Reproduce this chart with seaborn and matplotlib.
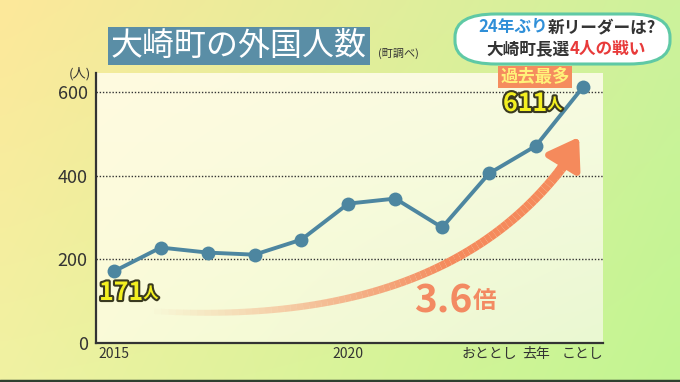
import numpy as np
import pandas as pd
import matplotlib.pyplot as plt
import matplotlib.patheffects as pe
from matplotlib.patches import FancyBboxPatch
from matplotlib.collections import LineCollection
from matplotlib.colors import to_rgb
import seaborn as sns

# data (町調べ)
years = [2015, 2016, 2017, 2018, 2019, 2020, 2021, 2022, 2023, 2024, 2025]
residents = [171, 228, 216, 211, 247, 333, 345, 276, 405, 471, 611]
tick_years = [2015, 2020, 2023, 2024, 2025]
tick_labels = ["2015", "2020", "おととし", "去年", "ことし"]
y_ticks = [0, 200, 400, 600]

sns.set_theme(style="white")
plt.rcParams["font.family"] = ["Noto Sans CJK JP", "DejaVu Sans"]

W, H = 680, 382
fig = plt.figure(figsize=(W / 100, H / 100), dpi=100)
renderer = fig.canvas.get_renderer()


def gradient(tl, tr, bl, br, n=64):
    t = np.linspace(0, 1, n)
    gx, gy = np.meshgrid(t, t)
    c = [np.array(to_rgb(k)) for k in (tl, tr, bl, br)]
    img = ((1 - gx)[..., None] * (1 - gy)[..., None] * c[0]
           + gx[..., None] * (1 - gy)[..., None] * c[1]
           + (1 - gx)[..., None] * gy[..., None] * c[2]
           + gx[..., None] * gy[..., None] * c[3])
    return img


def text_run(x, y, parts, **kw):
    # place text pieces one after another, starting at figure pixel x
    for s, color, size in parts:
        t = fig.text(x / W, 1 - y / H, s, color=color, fontsize=size,
                     ha="left", va="center", **kw)
        x += t.get_window_extent(renderer).width
    return x


# background
bg = fig.add_axes([0, 0, 1, 1])
bg.imshow(gradient("#fde89a", "#cdf29c", "#f0f2a2", "#c2f592"),
          extent=[0, 1, 0, 1], aspect="auto", interpolation="bicubic")
bg.axhline(0.003, color="#2f4030", lw=2.5)
bg.set_xlim(0, 1)
bg.set_ylim(0, 1)
bg.axis("off")

ax = fig.add_axes([96 / W, (H - 343) / H, (603 - 96) / W, (343 - 73) / H])
ax.imshow(gradient("#fffbe0", "#f8fbe2", "#fafbd8", "#eaf8d2"),
          extent=[0, 1, 0, 1], transform=ax.transAxes, aspect="auto",
          interpolation="bicubic", zorder=0)

df = pd.DataFrame({"year": years, "residents": residents})
sns.lineplot(data=df, x="year", y="residents", ax=ax, color="#4d86a0",
             lw=2.8, marker="o", markersize=10, markeredgewidth=0, zorder=5)

ax.set_xlim(2014.62, 2025.43)
ax.set_ylim(0, 645)
ax.set_aspect("auto")
ax.set_xticks(tick_years)
ax.set_xticklabels(tick_labels, fontsize=10, color="#333333")
ax.set_yticks(y_ticks)
ax.set_yticklabels([str(v) for v in y_ticks], fontsize=13, color="#333333")
ax.tick_params(axis="x", length=0, pad=3)
ax.tick_params(axis="y", length=0, pad=6)
for v in y_ticks[1:]:
    ax.axhline(v, color="#333333", lw=1.0, ls=(0, (1, 1.3)), zorder=2)
ax.set_xlabel("")
ax.set_ylabel("")
for s in ["top", "right"]:
    ax.spines[s].set_visible(False)
for s in ["left", "bottom"]:
    ax.spines[s].set_color("#333333")
    ax.spines[s].set_linewidth(1.6)
fig.text(91 / W, 1 - 74 / H, "(人)", fontsize=9.5, color="#333333",
         ha="right", va="center")

# growth arrow (fades at its tail)
p0 = np.array([2015.70, 77.0])
pc = np.array([2021.95, 31.0])
p2 = np.array([2024.60, 425.0])
t = np.linspace(0, 1, 80)[:, None]
curve = (1 - t) ** 2 * p0 + 2 * (1 - t) * t * pc + t ** 2 * p2
segs = np.stack([curve[:-1], curve[1:]], axis=1)
orange = np.array(to_rgb("#f58a5c"))
alphas = np.clip(np.linspace(0.0, 1.6, len(segs)), 0, 1)
cols = np.column_stack([np.tile(orange, (len(segs), 1)), alphas])
widths = np.linspace(4, 7, len(segs))
ax.add_collection(LineCollection(segs, colors=cols, linewidths=widths,
                                 capstyle="butt", zorder=3))
ax.annotate("", xy=(2024.92, 492), xytext=(curve[-4, 0], curve[-4, 1]),
            arrowprops=dict(arrowstyle="-|>,head_length=1.5,head_width=1.0",
                            color="#f58a5c", lw=5, shrinkA=0, shrinkB=0),
            zorder=3)

# value labels and callouts (positions in figure pixels)
glow = [pe.withStroke(linewidth=3, foreground="#3a3a20")]
text_run(414, 301, [("3.6", "#f38a62", 28), ("倍", "#f38a62", 17)],
         fontweight="bold")
text_run(99, 293, [("171", "#f4f020", 18), ("人", "#f4f020", 11)],
         fontweight="bold", path_effects=glow)
text_run(503, 104, [("611", "#f4f020", 18), ("人", "#f4f020", 11)],
         fontweight="bold", path_effects=glow)
fig.text(535 / W, 1 - 77 / H, "過去最多", fontsize=12.5, color="#fff27a",
         ha="center", va="center", fontweight="bold",
         bbox=dict(boxstyle="square,pad=0.12", fc="#f58c5e", ec="none"))

# title
fig.text(111 / W, 1 - 46 / H, "大崎町の外国人数", fontsize=23, color="white",
         ha="left", va="center",
         bbox=dict(boxstyle="square,pad=0.08", fc="#5a8ea6", ec="none"))
fig.text(378 / W, 1 - 53 / H, "(町調べ)", fontsize=8, color="#333333",
         ha="left", va="center")

# top-right badge
badge = FancyBboxPatch((455 / W, 1 - 64 / H), 215 / W, 50 / H,
                       boxstyle="round,pad=0,rounding_size=0.06",
                       transform=fig.transFigure, fc="white", ec="#5fc9a5",
                       lw=2.2, zorder=10)
fig.add_artist(badge)
text_run(478, 27, [("24年ぶり", "#2f8fd8", 12), ("新リーダーは?", "#333333", 12)],
         fontweight="bold", zorder=11)
text_run(486, 49, [("大崎町長選", "#333333", 12), ("4人の戦い", "#e83a3a", 12)],
         fontweight="bold", zorder=11)

fig.savefig("out.png", dpi=100)
